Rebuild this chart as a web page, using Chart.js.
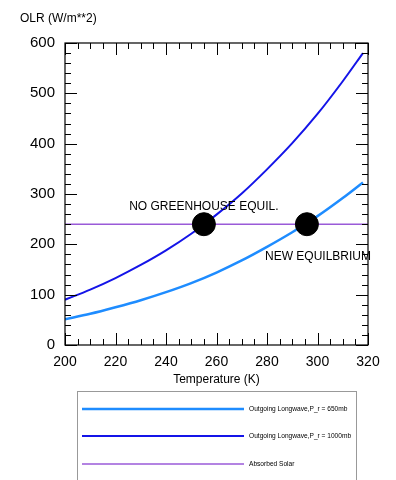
<!DOCTYPE html>
<html><head><meta charset="utf-8">
<script src="https://cdn.jsdelivr.net/npm/chart.js@4/dist/chart.umd.min.js"></script>
<style>html,body{margin:0;padding:0;background:#fff}#wrap{width:396px;height:480px;position:relative}</style>
</head><body><div id="wrap"><canvas id="c" width="396" height="480"></canvas></div>
<script>
const temps = [200,210,220,230,240,250,260,270,280,290,300,310,318];
const olr650 = [51,62,75,89,105,123,144,168,195,224,256,292,323];
const olr1000 = [90,110,133,159,188,221,259,301,349,401,459,524,580];
const solarT = [200,320];
const solarVal = [240,240];
const equilT = [255,295.8];
const equilVal = [240,240];
const xTicks = [200,220,240,260,280,300,320];
const yTicks = [0,100,200,300,400,500,600];
const labels = ["Outgoing Longwave,P_r = 650mb","Outgoing Longwave,P_r = 1000mb","Absorbed Solar"];
const yTitle = "OLR (W/m**2)";
const xTitle = "Temperature (K)";
const notes = [{text:"NO GREENHOUSE EQUIL.", x:255, y:240, dy:-18, align:"center"},
               {text:"NEW EQUILBRIUM", x:279.2, y:240, dy:32, align:"left"}];

const C1 = "#1e8cff", C2 = "#1414e8", C3 = "#9a5ad8";
const FONT = "'Liberation Sans', Arial, sans-serif";

const pts = (xs, ys) => xs.map((x,i)=>({x:x,y:ys[i]}));

const boxPlugin = {
  id:'box',
  afterDatasetsDraw(chart){
    const ctx = chart.ctx, a = chart.chartArea, xs = chart.scales.x, ys = chart.scales.y;
    ctx.save();
    ctx.strokeStyle = "#000"; ctx.lineWidth = 1.2;
    ctx.strokeRect(a.left, a.top, a.right-a.left, a.bottom-a.top);
    ctx.lineWidth = 1;
    for(let v=200; v<=320; v+=5){
      const p = Math.round(xs.getPixelForValue(v))+0.5;
      const L = (v%20===0)?12:6;
      ctx.beginPath(); ctx.moveTo(p,a.bottom); ctx.lineTo(p,a.bottom-L);
      ctx.moveTo(p,a.top); ctx.lineTo(p,a.top+L); ctx.stroke();
    }
    for(let v=0; v<=600; v+=20){
      const p = Math.round(ys.getPixelForValue(v))+0.5;
      const L = (v%100===0)?12:6;
      ctx.beginPath(); ctx.moveTo(a.left,p); ctx.lineTo(a.left+L,p);
      ctx.moveTo(a.right,p); ctx.lineTo(a.right-L,p); ctx.stroke();
    }
    ctx.fillStyle = "#000"; ctx.font = "12px " + FONT; ctx.textBaseline = "middle";
    notes.forEach(n=>{
      ctx.textAlign = n.align === "left" ? "left" : "center";
      ctx.fillText(n.text, xs.getPixelForValue(n.x), ys.getPixelForValue(n.y)+n.dy);
    });
    ctx.textAlign = "left"; ctx.font = "12px " + FONT;
    ctx.fillText(yTitle, 20, 19);
    ctx.strokeStyle = "#999"; ctx.lineWidth = 1;
    ctx.strokeRect(77.5, 391.5, 279, 100);
    const cols = [C1,C2,C3], wds=[2.5,2,1.5], ly=[409,436,464];
    ctx.font = "6.6px " + FONT; ctx.fillStyle = "#000";
    for(let i=0;i<3;i++){
      ctx.strokeStyle = cols[i]; ctx.lineWidth = wds[i];
      ctx.beginPath(); ctx.moveTo(82, ly[i]); ctx.lineTo(244, ly[i]); ctx.stroke();
      ctx.fillText(labels[i], 249, ly[i]);
    }
    ctx.restore();
  }
};

new Chart(document.getElementById('c'), {
  type:'line',
  data:{datasets:[
    {label:labels[2], data:pts(solarT,solarVal), borderColor:C3, borderWidth:1.5, pointRadius:0, order:3},
    {label:labels[0], data:pts(temps,olr650), borderColor:C1, borderWidth:2.5, pointRadius:0, cubicInterpolationMode:'monotone', order:2},
    {label:labels[1], data:pts(temps,olr1000), borderColor:C2, borderWidth:2, pointRadius:0, cubicInterpolationMode:'monotone', order:2},
    {label:"equil", type:'scatter', data:pts(equilT,equilVal), backgroundColor:"#000", borderColor:"#000", pointRadius:11.5, order:0}
  ]},
  options:{
    responsive:false, animation:false, devicePixelRatio:1,
    layout:{padding:{left:0, top:43, right:28, bottom:93}},
    plugins:{legend:{display:false}, tooltip:{enabled:false}},
    scales:{
      x:{type:'linear', min:200, max:320,
         afterBuildTicks(s){ s.ticks = xTicks.map(v=>({value:v})); },
         afterFit(s){ s.height = 42; },
         grid:{display:false, drawTicks:false}, border:{display:false},
         ticks:{color:"#000", font:{family:FONT, size:14}, padding:9, maxRotation:0},
         title:{display:true, text:xTitle, color:"#000", font:{family:FONT, size:12}, padding:{top:0,bottom:0}}},
      y:{type:'linear', min:0, max:600,
         afterBuildTicks(s){ s.ticks = yTicks.map(v=>({value:v})); },
         afterFit(s){ s.width = 65; },
         grid:{display:false, drawTicks:false}, border:{display:false},
         ticks:{color:"#000", font:{family:FONT, size:15}, padding:10}}
    }
  },
  plugins:[boxPlugin]
});
</script></body></html>
